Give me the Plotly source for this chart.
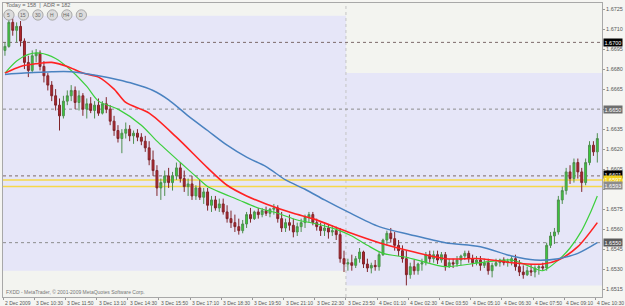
import plotly.graph_objects as go

# ---------------- data (M5 chart, shown as 10-minute candles) ----------------
opens = [1.6694,1.6697,1.6715,1.6709,1.6712,1.6701,1.6685,1.6679,1.6690,1.6692,
         1.6682,1.6675,1.6668,1.6660,1.6653,1.6645,1.6656,1.6660,1.6664,1.6655,
         1.6660,1.6650,1.6654,1.6649,1.6653,1.6647,1.6654,1.6650,1.6641,1.6634,
         1.6628,1.6632,1.6635,1.6630,1.6632,1.6629,1.6626,1.6621,1.6612,1.6604,
         1.6591,1.6595,1.6600,1.6595,1.6600,1.6606,1.6598,1.6592,1.6594,1.6585,
         1.6591,1.6584,1.6588,1.6578,1.6582,1.6576,1.6579,1.6573,1.6568,1.6565,
         1.6562,1.6559,1.6564,1.6571,1.6568,1.6573,1.6571,1.6574,1.6572,1.6575,
         1.6576,1.6568,1.6561,1.6565,1.6563,1.6558,1.6562,1.6565,1.6569,1.6571,
         1.6565,1.6562,1.6559,1.6561,1.6558,1.6559,1.6556,1.6538,1.6534,1.6535,
         1.6533,1.6538,1.6543,1.6534,1.6531,1.6533,1.6532,1.6541,1.6552,1.6557,
         1.6553,1.6548,1.6544,1.6538,1.6526,1.6532,1.6529,1.6534,1.6535,1.6541,
         1.6538,1.6541,1.6537,1.6541,1.6532,1.6535,1.6534,1.6537,1.6540,1.6542,
         1.6538,1.6535,1.6537,1.6533,1.6535,1.6529,1.6533,1.6535,1.6537,1.6535,
         1.6536,1.6538,1.6532,1.6528,1.6526,1.6529,1.6528,1.6531,1.6532,1.6531,
         1.6548,1.6555,1.6558,1.6582,1.6589,1.6603,1.6598,1.6610,1.6603,1.6595,
         1.6610,1.6623,1.6618]
highs = [1.6700,1.6720,1.6718,1.6715,1.6716,1.6703,1.6690,1.6694,1.6695,1.6694,
         1.6686,1.6677,1.6671,1.6665,1.6658,1.6660,1.6664,1.6668,1.6667,1.6664,
         1.6662,1.6658,1.6659,1.6656,1.6658,1.6656,1.6659,1.6653,1.6645,1.6638,
         1.6635,1.6640,1.6638,1.6634,1.6635,1.6632,1.6630,1.6626,1.6619,1.6608,
         1.6598,1.6604,1.6606,1.6603,1.6610,1.6610,1.6604,1.6598,1.6600,1.6593,
         1.6597,1.6591,1.6591,1.6585,1.6585,1.6583,1.6583,1.6578,1.6574,1.6571,
         1.6568,1.6567,1.6573,1.6576,1.6574,1.6576,1.6576,1.6577,1.6576,1.6579,
         1.6578,1.6573,1.6568,1.6571,1.6568,1.6565,1.6568,1.6571,1.6573,1.6573,
         1.6568,1.6565,1.6564,1.6564,1.6563,1.6562,1.6561,1.6544,1.6538,1.6541,
         1.6540,1.6546,1.6544,1.6538,1.6535,1.6537,1.6543,1.6553,1.6559,1.6561,
         1.6558,1.6552,1.6548,1.6544,1.6535,1.6537,1.6535,1.6538,1.6543,1.6544,
         1.6544,1.6544,1.6543,1.6543,1.6538,1.6538,1.6540,1.6541,1.6544,1.6544,
         1.6541,1.6540,1.6540,1.6538,1.6538,1.6535,1.6538,1.6538,1.6539,1.6538,
         1.6540,1.6541,1.6537,1.6533,1.6532,1.6534,1.6533,1.6534,1.6535,1.6550,
         1.6558,1.6561,1.6585,1.6592,1.6606,1.6608,1.6613,1.6613,1.6606,1.6613,
         1.6626,1.6626,1.6632]
lows = [1.6690,1.6696,1.6705,1.6700,1.6697,1.6680,1.6674,1.6677,1.6685,1.6679,
        1.6670,1.6664,1.6656,1.6649,1.6634,1.6643,1.6653,1.6656,1.6650,1.6649,
        1.6645,1.6643,1.6647,1.6643,1.6645,1.6646,1.6647,1.6638,1.6630,1.6625,
        1.6617,1.6628,1.6626,1.6624,1.6626,1.6623,1.6618,1.6608,1.6600,1.6585,
        1.6582,1.6585,1.6591,1.6589,1.6597,1.6595,1.6588,1.6585,1.6582,1.6582,
        1.6582,1.6579,1.6574,1.6573,1.6574,1.6573,1.6571,1.6565,1.6561,1.6558,
        1.6556,1.6557,1.6561,1.6565,1.6567,1.6568,1.6569,1.6570,1.6569,1.6571,
        1.6565,1.6558,1.6558,1.6559,1.6554,1.6555,1.6558,1.6561,1.6565,1.6563,
        1.6559,1.6555,1.6555,1.6553,1.6555,1.6552,1.6535,1.6528,1.6529,1.6529,
        1.6531,1.6535,1.6531,1.6528,1.6527,1.6529,1.6529,1.6540,1.6548,1.6550,
        1.6544,1.6540,1.6535,1.6518,1.6523,1.6526,1.6526,1.6529,1.6533,1.6535,
        1.6535,1.6534,1.6535,1.6529,1.6531,1.6531,1.6532,1.6533,1.6537,1.6535,
        1.6532,1.6533,1.6529,1.6531,1.6526,1.6524,1.6532,1.6532,1.6533,1.6532,
        1.6533,1.6529,1.6525,1.6523,1.6525,1.6525,1.6524,1.6526,1.6529,1.6529,
        1.6546,1.6549,1.6556,1.6579,1.6586,1.6594,1.6595,1.6598,1.6588,1.6593,
        1.6608,1.6615,1.6610]
closes = [1.6697,1.6715,1.6709,1.6712,1.6701,1.6685,1.6679,1.6690,1.6692,1.6682,
          1.6675,1.6668,1.6660,1.6653,1.6645,1.6656,1.6660,1.6664,1.6655,1.6660,
          1.6650,1.6654,1.6649,1.6653,1.6647,1.6654,1.6650,1.6641,1.6634,1.6628,
          1.6632,1.6635,1.6630,1.6632,1.6629,1.6626,1.6621,1.6612,1.6604,1.6591,
          1.6595,1.6600,1.6595,1.6600,1.6606,1.6598,1.6592,1.6594,1.6585,1.6591,
          1.6584,1.6588,1.6578,1.6582,1.6576,1.6579,1.6573,1.6568,1.6565,1.6562,
          1.6559,1.6564,1.6571,1.6568,1.6573,1.6571,1.6574,1.6572,1.6575,1.6576,
          1.6568,1.6561,1.6565,1.6563,1.6558,1.6562,1.6565,1.6569,1.6571,1.6565,
          1.6562,1.6559,1.6561,1.6558,1.6559,1.6556,1.6538,1.6534,1.6535,1.6533,
          1.6538,1.6543,1.6534,1.6531,1.6533,1.6532,1.6541,1.6552,1.6557,1.6553,
          1.6548,1.6544,1.6538,1.6526,1.6532,1.6529,1.6534,1.6535,1.6541,1.6538,
          1.6541,1.6537,1.6541,1.6532,1.6535,1.6534,1.6537,1.6540,1.6542,1.6538,
          1.6535,1.6537,1.6533,1.6535,1.6529,1.6533,1.6535,1.6537,1.6535,1.6536,
          1.6538,1.6532,1.6528,1.6526,1.6529,1.6528,1.6531,1.6532,1.6531,1.6548,
          1.6555,1.6558,1.6582,1.6589,1.6603,1.6598,1.6610,1.6603,1.6595,1.6610,
          1.6623,1.6618,1.6628]

# moving averages (bar index, value)
fast_ma_bar = [0,3,6,9,13,17,21,24,29,35,39,45,50,52,60,65,70,75,80,85,89,93,97,
               103,107,113,122,130,134,138,142,145,148,150,152]
fast_ma = [1.6677,1.6686,1.6691,1.6692,1.6688,1.6679,1.6667,1.6656,1.6650,1.6638,
           1.6626,1.6610,1.6597,1.6592,1.6582,1.6576,1.6572,1.6567,1.6564,1.6560,
           1.6555,1.6548,1.6542,1.6539,1.6536,1.6532,1.6535,1.6537,1.6533,1.6529,
           1.6537,1.6546,1.6559,1.6571,1.6585]
mid_ma_bar = [0,4,8,12,16,20,24,28,31,37,44,52,57,62,67,74,79,88,96,105,113,122,
              130,138,142,147,152]
mid_ma = [1.6677,1.6682,1.6684,1.6685,1.6682,1.6677,1.6674,1.6665,1.6655,1.6647,
          1.6629,1.6606,1.6593,1.6585,1.6579,1.6572,1.6568,1.6558,1.6550,1.6543,
          1.6538,1.6538,1.6535,1.6534,1.6537,1.6547,1.6565]
slow_ma_bar = [0,5,12,17,24,29,33,38,42,47,52,57,62,67,72,77,82,88,96,104,113,122,
               130,136,142,147,152]
slow_ma = [1.6676,1.6677,1.6678,1.6678,1.6675,1.6672,1.6669,1.6664,1.6657,1.6645,
           1.6634,1.6623,1.6614,1.6607,1.6597,1.6590,1.6582,1.6573,1.6562,1.6556,
           1.6550,1.6547,1.6540,1.6537,1.6538,1.6542,1.6550]

# day ranges (start bar, end bar, high, low)
day_start = [0, 88]
day_end = [88, 154]
day_high = [1.6720, 1.6677]
day_low = [1.6529, 1.6518]

# horizontal levels
dotted_levels = [1.6700, 1.6650, 1.6600, 1.6550]
dotted_colors = ["#7d6a6a", "#8c8c8c", "#7d6a6a", "#8c8c8c"]
yellow_levels = [1.6597, 1.6592]

tag_values = [1.6700, 1.6650, 1.6601, 1.6597, 1.6593, 1.6550]
tag_texts = ["1.6700", "1.6650", "1.6601", "1.6597", "1.6593", "1.6550"]
tag_bg = ["#000000", "#6e6e6e", "#000000", "#f2d21e", "#8c8c8c", "#5a5a5a"]

price_ticks = [1.6515, 1.6530, 1.6545, 1.6560, 1.6575, 1.6590, 1.6605, 1.6620,
               1.6635, 1.6650, 1.6665, 1.6680, 1.6695, 1.6710, 1.6725]
# tick labels hidden under a price tag in the original
covered_ticks = [1.6590, 1.6650]

time_label_bar = [0, 8, 16, 24, 32, 40, 48, 56, 64, 72, 80, 88, 96, 104, 112,
                  120, 128, 136, 144, 152]
time_labels = ["2 Dec 2009", "3 Dec 10:30", "3 Dec 11:50", "3 Dec 13:10",
               "3 Dec 14:30", "3 Dec 15:50", "3 Dec 17:10", "3 Dec 18:30",
               "3 Dec 19:50", "3 Dec 21:10", "3 Dec 22:30", "3 Dec 23:50",
               "4 Dec 01:10", "4 Dec 02:30", "4 Dec 03:50", "4 Dec 05:10",
               "4 Dec 06:30", "4 Dec 07:50", "4 Dec 09:10", "4 Dec 10:30"]

tf_buttons = ["5", "15", "30", "H", "H4", "D"]

# ---------------- figure ----------------
W, H = 625, 306
ML, MR, MT, MB = 2, 19, 2, 9
PW, PH = W - ML - MR, H - MT - MB
X_RANGE = [-0.5, 153.2]
Y_RANGE = [1.65093, 1.67295]


def px_x(px):
    return (px - ML) / PW


def px_y(py):
    return (H - MB - py) / PH


bars = list(range(len(opens)))
fig = go.Figure()
fig.add_trace(go.Candlestick(
    x=bars, open=opens, high=highs, low=lows, close=closes,
    increasing=dict(line=dict(color="#4f8f4f", width=1), fillcolor="#38d038"),
    decreasing=dict(line=dict(color="#80242a", width=1), fillcolor="#b3262e"),
    showlegend=False, hoverinfo="skip"))

for bx, vals, col, w in [(fast_ma_bar, fast_ma, "#3ccf3c", 1.2),
                         (mid_ma_bar, mid_ma, "#ff2222", 1.6),
                         (slow_ma_bar, slow_ma, "#4a82c0", 1.5)]:
    fig.add_trace(go.Scatter(x=bx, y=vals, mode="lines",
                             line=dict(color=col, width=w, shape="spline", smoothing=0.8),
                             showlegend=False, hoverinfo="skip"))

shapes = []
for s, e, hi, lo in zip(day_start, day_end, day_high, day_low):
    shapes.append(dict(type="rect", xref="x", yref="y", x0=s - 0.5, x1=e - 0.5,
                       y0=lo, y1=hi, fillcolor="#e6e6f8", line=dict(width=0),
                       layer="below"))
shapes.append(dict(type="line", xref="x", yref="y", x0=day_start[1] - 0.5,
                   x1=day_start[1] - 0.5, y0=Y_RANGE[0], y1=Y_RANGE[1],
                   line=dict(color="#c4c4c4", width=1, dash="dot"), layer="below"))
for lv, c in zip(dotted_levels, dotted_colors):
    shapes.append(dict(type="line", xref="x", yref="y", x0=X_RANGE[0], x1=X_RANGE[1],
                       y0=lv, y1=lv, line=dict(color=c, width=1, dash="dot"),
                       layer="below"))
for lv in yellow_levels:
    shapes.append(dict(type="line", xref="x", yref="y", x0=X_RANGE[0], x1=X_RANGE[1],
                       y0=lv, y1=lv, line=dict(color="#f6d84a", width=1.5),
                       layer="below"))

annotations = []
# timeframe buttons
for k, t in enumerate(tf_buttons):
    cx, cy, r = 8 + 14.6 * k, 14, 5.2
    shapes.append(dict(type="circle", xref="paper", yref="paper",
                       x0=px_x(cx - r), x1=px_x(cx + r), y0=px_y(cy + r), y1=px_y(cy - r),
                       fillcolor="#dcdcdc", line=dict(color="#a8a8a8", width=1)))
    annotations.append(dict(x=px_x(cx), y=px_y(cy), xref="paper", yref="paper",
                            text=t, showarrow=False, xanchor="center", yanchor="middle",
                            font=dict(size=5, color="#666666", family="Liberation Sans")))

annotations.append(dict(x=px_x(3), y=px_y(4.5), xref="paper", yref="paper",
                        text="Today = 158  |  ADR = 182", showarrow=False,
                        xanchor="left", yanchor="middle",
                        font=dict(size=5.5, color="#666666", family="Liberation Sans")))
annotations.append(dict(x=px_x(3), y=px_y(292), xref="paper", yref="paper",
                        text="FXDD - MetaTrader, © 2001-2009 MetaQuotes Software Corp.",
                        showarrow=False, xanchor="left", yanchor="middle",
                        font=dict(size=5, color="#777777", family="Liberation Sans")))

for b, t in zip(time_label_bar, time_labels):
    annotations.append(dict(x=b - 0.5, y=0, xref="x", yref="paper", text=t,
                            showarrow=False, xanchor="left", yanchor="top", yshift=-1,
                            font=dict(size=5, color="#555555", family="Liberation Sans")))

for v, t, bg in zip(tag_values, tag_texts, tag_bg):
    annotations.append(dict(x=1, y=v, xref="paper", yref="y", text=t, showarrow=False,
                            xanchor="left", yanchor="middle", xshift=1,
                            bgcolor=bg, borderpad=0.5,
                            font=dict(size=5.5, color="#ffffff", family="Liberation Sans")))

tick_text = ["" if any(abs(v - c) < 1e-9 for c in covered_ticks) else f"{v:.4f}"
             for v in price_ticks]

fig.update_layout(
    width=W, height=H, margin=dict(l=ML, r=MR, t=MT, b=MB),
    paper_bgcolor="#f5f5f2", plot_bgcolor="#f3f4f0",
    shapes=shapes, annotations=annotations, showlegend=False,
    xaxis=dict(range=X_RANGE, showgrid=False, zeroline=False, rangeslider=dict(visible=False),
               tickvals=[b - 0.5 for b in time_label_bar], ticks="outside", ticklen=2,
               tickcolor="#999999", showticklabels=False, showline=True,
               linecolor="#a8a8a8", mirror=True, fixedrange=True),
    yaxis=dict(range=Y_RANGE, side="right", showgrid=False, zeroline=False,
               tickvals=price_ticks, ticktext=tick_text,
               ticks="outside", ticklen=2, tickcolor="#999999",
               tickfont=dict(size=5.5, color="#555555", family="Liberation Sans"),
               showline=True, linecolor="#a8a8a8", mirror=True, fixedrange=True),
)

fig.write_html("out.html")
